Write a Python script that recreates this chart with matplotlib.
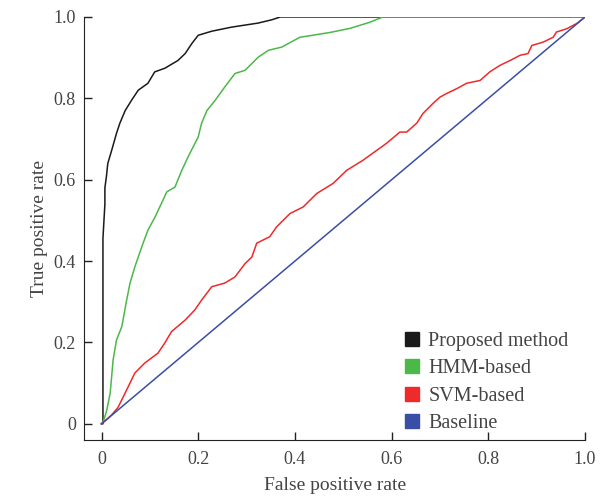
import numpy as np
import matplotlib.pyplot as plt
from matplotlib.lines import Line2D

plt.rcParams['font.family'] = ['Liberation Serif', 'DejaVu Serif']

# ROC points
prop_fpr = [0, 0.003, 0.003, 0.007, 0.007, 0.010, 0.013, 0.021, 0.031, 0.038, 0.049, 0.062,
            0.076, 0.096, 0.11, 0.131, 0.158, 0.173, 0.187, 0.2, 0.228, 0.269, 0.324,
            0.352, 0.37, 1.0]
prop_tpr = [0, 0, 0.456, 0.54, 0.58, 0.606, 0.64, 0.672, 0.714, 0.739, 0.77, 0.795,
            0.82, 0.837, 0.865, 0.874, 0.893, 0.91, 0.935, 0.955, 0.965, 0.975, 0.985,
            0.993, 1.0, 1.0]

hmm_fpr = [0, 0.005, 0.011, 0.018, 0.024, 0.031, 0.042, 0.052, 0.059, 0.069, 0.076, 0.086,
           0.096, 0.111, 0.124, 0.135, 0.152, 0.166, 0.179, 0.2, 0.207, 0.218, 0.235,
           0.255, 0.276, 0.297, 0.324, 0.345, 0.373, 0.41, 0.473, 0.514, 0.555, 0.582, 1.0]
hmm_tpr = [0, 0.01, 0.034, 0.076, 0.157, 0.206, 0.239, 0.304, 0.346, 0.386, 0.41, 0.444,
           0.476, 0.509, 0.542, 0.57, 0.582, 0.623, 0.656, 0.705, 0.739, 0.77, 0.795,
           0.828, 0.861, 0.869, 0.901, 0.918, 0.926, 0.95, 0.962, 0.972, 0.987, 1.0, 1.0]

svm_fpr = [0, 0.012, 0.021, 0.034, 0.049, 0.069, 0.09, 0.117, 0.131, 0.145, 0.173, 0.193, 0.207,
           0.228, 0.255, 0.276, 0.297, 0.311, 0.321, 0.348, 0.362, 0.39, 0.417, 0.445,
           0.479, 0.507, 0.541, 0.569, 0.59, 0.617, 0.631, 0.652, 0.665, 0.686, 0.7,
           0.714, 0.735, 0.755, 0.783, 0.803, 0.824, 0.845, 0.866, 0.882, 0.89, 0.913,
           0.934, 0.941, 0.962, 0.983, 1.0]
svm_tpr = [0, 0.012, 0.022, 0.04, 0.076, 0.125, 0.15, 0.174, 0.199, 0.227, 0.255, 0.28, 0.304,
           0.337, 0.346, 0.361, 0.394, 0.41, 0.444, 0.46, 0.484, 0.517, 0.533, 0.566,
           0.591, 0.623, 0.648, 0.672, 0.69, 0.717, 0.717, 0.739, 0.763, 0.788, 0.803,
           0.812, 0.824, 0.837, 0.844, 0.865, 0.881, 0.893, 0.906, 0.91, 0.93, 0.938,
           0.95, 0.963, 0.971, 0.984, 1.0]

base_fpr = [0, 1]
base_tpr = [0, 1]

labels = ['Proposed method', 'HMM-based', 'SVM-based', 'Baseline']
colors = ['#1a1a1a', '#4cb848', '#ee2a2a', '#3a4ea6']

fig = plt.figure(figsize=(6.05, 4.99), dpi=100)
ax = fig.add_axes([0.139, 0.118, 0.828, 0.848])

ax.plot(prop_fpr, prop_tpr, color=colors[0], lw=1.1)
ax.plot(hmm_fpr, hmm_tpr, color=colors[1], lw=1.1)
ax.plot(svm_fpr, svm_tpr, color=colors[2], lw=1.1)
ax.plot(base_fpr, base_tpr, color=colors[3], lw=1.1)

ax.set_xlim(-0.036, 1.0)
ax.set_ylim(-0.04, 1.0)
ticks = [0, 0.2, 0.4, 0.6, 0.8, 1.0]
ticklabels = ['0', '0.2', '0.4', '0.6', '0.8', '1.0']
ax.set_xticks(ticks)
ax.set_xticklabels(ticklabels)
ax.set_yticks(ticks)
ax.set_yticklabels(ticklabels)
ax.tick_params(direction='in', length=6, width=1, labelsize=13, colors='#222222',
               labelcolor='#444444')
ax.tick_params(axis='x', pad=8)
ax.tick_params(axis='y', pad=6)
for s in ['top', 'right']:
    ax.spines[s].set_visible(False)
for s in ['left', 'bottom']:
    ax.spines[s].set_color('#222222')

ax.set_xlabel('False positive rate', fontsize=14, color='#444444', labelpad=6)
ax.set_ylabel('True positive rate', fontsize=14, color='#444444', labelpad=4)

handles = [Line2D([], [], marker='s', linestyle='none', markersize=10,
                  markerfacecolor=c, markeredgecolor=c) for c in colors]
ax.legend(handles, labels, loc='upper left', bbox_to_anchor=(0.635, 0.255),
          frameon=False, fontsize=14.5, labelspacing=0.4, handletextpad=0.3,
          borderpad=0, borderaxespad=0, handlelength=1.0, labelcolor='#444444')

fig.savefig('out.png', dpi=100)
